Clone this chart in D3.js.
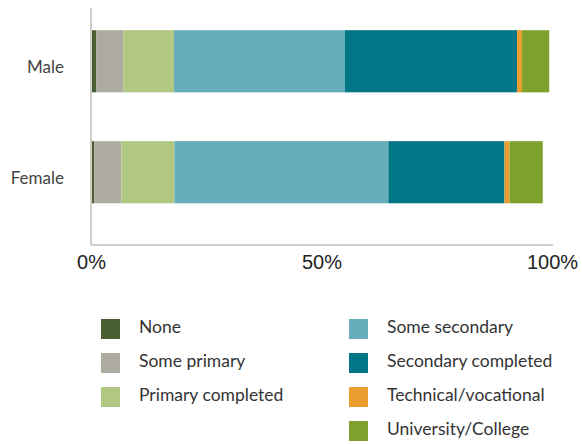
<!DOCTYPE html>
<html>
<head>
<meta charset="utf-8">
<script src="https://cdn.jsdelivr.net/npm/d3@7"></script>
<style>
    body { margin: 0; background: #fff; }
    svg { font-family: Lato, "Open Sans", sans-serif; }
    .axis path { stroke: #cfcfc7; stroke-width: 2; }
    .axis text { font-size: 20px; fill: #222; }
    .catLabel { font-size: 17px; fill: #444; }
    .legendText { font-size: 17.5px; fill: #333; }
</style>
</head>
<body>
<script>
//svg size
var w = 582, h = 444;

//categories (rows of the chart)
var genders = ["Male", "Female"];

//education levels (stack order)
var levels = ["None", "Some primary", "Primary completed", "Some secondary",
    "Secondary completed", "Technical/vocational", "University/College"];

//share of each level, in percent, same order as levels
var maleValues = [1.1, 5.9, 11.0, 37.1, 37.3, 1.1, 5.9];
var femaleValues = [0.7, 5.9, 11.5, 46.4, 25.2, 1.1, 7.2];

//colours of each level
var levelColors = ["#4a5e33", "#aeaca0", "#b1c883", "#66adb9",
    "#007687", "#eb9e2f", "#7fa22f"];

//tick labels on the x axis
var xTicks = [0, 50, 100];

//build rows for the stack
var rows = genders.map(function(g, i){
    var vals = i == 0 ? maleValues : femaleValues;
    var row = { gender: g };
    levels.forEach(function(l, j){ row[l] = vals[j]; });
    return row;
});

var stack = d3.stack().keys(levels)(rows);

var container = d3.select("body")
    .append("svg")
    .attr("width", w)
    .attr("height", h)
    .attr("class", "container");

//x scale, percent to pixels
var x = d3.scaleLinear()
    .domain([0, 100])
    .range([91, 552]);

//y scale, one band per gender
var y = d3.scaleBand()
    .domain(genders)
    .range([8, 225.5])
    .paddingInner(0.44)
    .paddingOuter(0.2);

var color = d3.scaleOrdinal()
    .domain(levels)
    .range(levelColors);

//bars
var layers = container.selectAll(".layers")
    .data(stack)
    .enter()
    .append("g")
    .attr("class", "layers")
    .style("fill", function(d){
        return color(d.key);
    });

layers.selectAll("rect")
    .data(function(d){ return d; })
    .enter()
    .append("rect")
    .attr("x", function(d){ return x(d[0]); })
    .attr("width", function(d){ return x(d[1]) - x(d[0]); })
    .attr("y", function(d){ return y(d.data.gender); })
    .attr("height", y.bandwidth());

//left axis line
var yAxis = container.append("g")
    .attr("class", "axis")
    .attr("transform", "translate(" + x(0) + ",0)")
    .call(d3.axisLeft(y).tickSize(0).tickFormat(""));

yAxis.select(".domain")
    .attr("d", "M0,8V245");

//category labels
container.selectAll(".catLabel")
    .data(genders)
    .enter()
    .append("text")
    .attr("class", "catLabel")
    .attr("text-anchor", "end")
    .attr("x", 64)
    .attr("y", function(d){
        return y(d) + y.bandwidth() / 2 + 12;
    })
    .text(function(d){ return d; });

//bottom axis
var xAxis = container.append("g")
    .attr("class", "axis")
    .attr("transform", "translate(0,245)")
    .call(d3.axisBottom(x)
        .tickValues(xTicks)
        .tickSize(0)
        .tickPadding(10)
        .tickFormat(function(d){ return d + "%"; }));

xAxis.select(".domain")
    .attr("d", "M" + x(0) + ",0H553");

xAxis.selectAll("text")
    .attr("font-family", null)
    .attr("font-size", null);

//legend, two columns
var legend = container.selectAll(".legend")
    .data(levels)
    .enter()
    .append("g")
    .attr("class", "legend")
    .attr("transform", function(d, i){
        var col = i < 3 ? 0 : 1;
        var row = i < 3 ? i : i - 3;
        return "translate(" + (col == 0 ? 101 : 349) + "," + (319 + row * 34) + ")";
    });

legend.append("rect")
    .attr("width", 19)
    .attr("height", 20)
    .style("fill", function(d){ return color(d); });

legend.append("text")
    .attr("class", "legendText")
    .attr("x", 38)
    .attr("y", 14)
    .text(function(d){ return d; });
</script>
</body>
</html>
